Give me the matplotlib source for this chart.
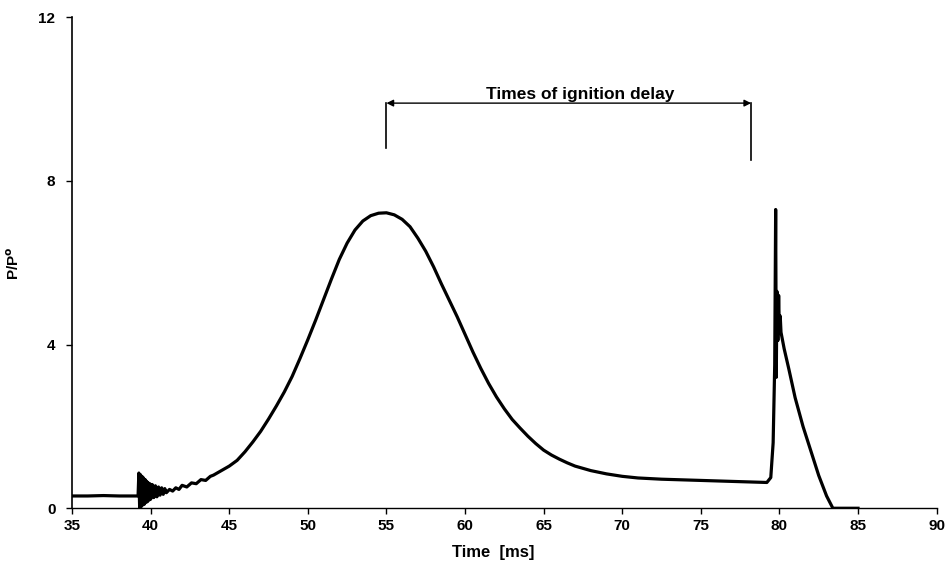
import numpy as np
import matplotlib
matplotlib.use("Agg")
import matplotlib.pyplot as plt

plt.rcParams['font.family'] = ['Liberation Sans', 'DejaVu Sans']

# pressure trace: time [ms], P/Po
t_base = [35.0, 36.0, 37.0, 38.0, 39.0, 39.2]
p_base = [0.30, 0.30, 0.31, 0.30, 0.30, 0.30]

t_osc = [39.25, 39.30, 39.35, 39.40, 39.45, 39.50, 39.55, 39.60, 39.65, 39.70,
         39.75, 39.80, 39.85, 39.90, 39.95, 40.00, 40.10, 40.20, 40.30, 40.40,
         40.50, 40.60, 40.70, 40.80, 40.90, 41.00, 41.20, 41.40, 41.60, 41.80,
         42.00, 42.30, 42.60, 42.90, 43.20, 43.50, 43.80]
p_osc = [0.86, 0.02, 0.82, 0.04, 0.78, 0.08, 0.74, 0.10, 0.70, 0.14,
         0.66, 0.16, 0.62, 0.20, 0.60, 0.22, 0.58, 0.26, 0.55, 0.28,
         0.52, 0.32, 0.50, 0.34, 0.48, 0.38, 0.46, 0.42, 0.50, 0.46,
         0.56, 0.52, 0.62, 0.60, 0.70, 0.68, 0.78]

t_bump = [44.0, 44.5, 45.0, 45.5, 46.0, 46.5, 47.0, 47.5, 48.0, 48.5,
          49.0, 49.5, 50.0, 50.5, 51.0, 51.5, 52.0, 52.5, 53.0, 53.5,
          54.0, 54.5, 55.0, 55.5, 56.0, 56.5, 57.0, 57.5, 58.0, 58.5,
          59.0, 59.5, 60.0, 60.5, 61.0, 61.5, 62.0, 62.5, 63.0, 63.5,
          64.0, 64.5, 65.0, 65.5, 66.0, 66.5, 67.0, 68.0, 69.0, 70.0,
          71.0, 72.5, 75.0, 77.5, 79.2]
p_bump = [0.81, 0.92, 1.03, 1.17, 1.38, 1.62, 1.88, 2.18, 2.50, 2.84,
          3.22, 3.66, 4.12, 4.60, 5.10, 5.60, 6.08, 6.48, 6.80, 7.02,
          7.15, 7.21, 7.22, 7.17, 7.06, 6.88, 6.60, 6.28, 5.90, 5.48,
          5.08, 4.68, 4.25, 3.82, 3.42, 3.05, 2.72, 2.43, 2.17, 1.96,
          1.76, 1.58, 1.42, 1.30, 1.20, 1.11, 1.03, 0.92, 0.84, 0.78,
          0.74, 0.71, 0.68, 0.65, 0.63]

t_spike = [79.45, 79.60, 79.70, 79.76, 79.80, 79.84, 79.90, 79.95, 80.00,
           80.05, 80.10, 80.30, 80.60, 81.00, 81.50, 82.00, 82.50, 83.00,
           83.40, 84.0, 85.0]
p_spike = [0.75, 1.60, 3.50, 7.30, 3.20, 5.30, 4.10, 5.20, 4.30,
           4.70, 4.30, 3.90, 3.40, 2.70, 2.00, 1.40, 0.80, 0.30,
           0.00, 0.00, 0.00]

t = np.concatenate([t_base, t_osc, t_bump, t_spike])
p = np.concatenate([p_base, p_osc, p_bump, p_spike])

fig = plt.figure(figsize=(9.48, 5.73), dpi=100)
ax = fig.add_axes([0.076, 0.113, 0.912, 0.857])
ax.plot(t, p, color='black', lw=2.3, solid_joinstyle='round')

ax.set_xlim(35, 90)
ax.set_ylim(0, 12)
ax.set_xticks(np.arange(35, 91, 5))
ax.set_yticks([0, 4, 8, 12])
for s in ['top', 'right']:
    ax.spines[s].set_visible(False)
ax.spines['left'].set_linewidth(1.2)
ax.spines['bottom'].set_linewidth(1.0)
ax.tick_params(direction='out', length=4, width=1, labelsize=11)
ax.tick_params(axis='y', pad=8)
for lab in ax.get_xticklabels() + ax.get_yticklabels():
    lab.set_fontweight('bold')

ax.set_xlabel('Time  [ms]', fontsize=12, fontweight='bold', labelpad=8)
ax.xaxis.set_label_coords(0.487, -0.075)
ax.set_ylabel(r'P/P$^\mathbf{o}$', fontsize=11, fontweight='bold')
ax.yaxis.set_label_coords(-0.058, 0.5)

# ignition delay marker
t_start, t_end = 55.0, 78.2
ax.annotate('', xy=(t_start, 9.9), xytext=(t_end, 9.9),
            arrowprops=dict(arrowstyle='<|-|>', color='black', lw=1.0,
                            mutation_scale=10, shrinkA=0, shrinkB=0))
ax.plot([t_start, t_start], [8.8, 9.9], color='black', lw=1.2)
ax.plot([t_end, t_end], [8.5, 9.9], color='black', lw=1.2)
ax.text(67.3, 9.92, 'Times of ignition delay', ha='center', va='bottom',
        fontsize=12.5, fontweight='bold')

fig.savefig('out.png', dpi=100)
